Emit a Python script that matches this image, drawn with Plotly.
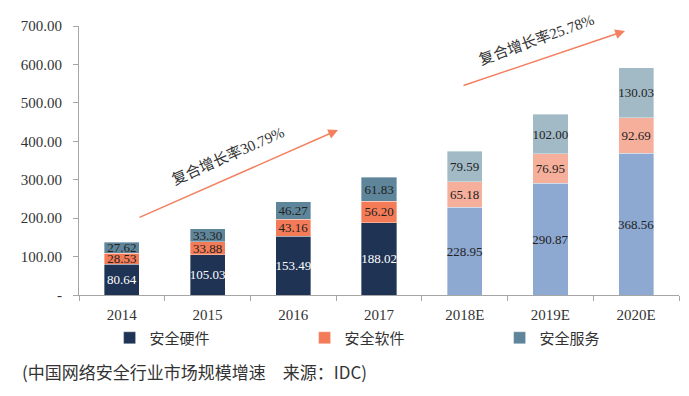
import plotly.graph_objects as go

years = ["2014", "2015", "2016", "2017", "2018E", "2019E", "2020E"]
hardware = [80.64, 105.03, 153.49, 188.02, 228.95, 290.87, 368.56]
software = [28.53, 33.88, 43.16, 56.20, 65.18, 76.95, 92.69]
service = [27.62, 33.30, 46.27, 61.83, 79.59, 102.00, 130.03]
is_estimate = [False, False, False, False, True, True, True]

y_ticks = [0, 100, 200, 300, 400, 500, 600, 700]
y_ticklabels = ["-"] + [f"{v:.2f}" for v in y_ticks[1:]]

series = [
    ("安全硬件", hardware, "#1F3354", "#8DA8D1", "white", "#222222", "legend", 0.051),
    ("安全软件", software, "#F47B57", "#F6AF9B", "#222222", "#222222", "legend2", 0.376),
    ("安全服务", service, "#5E8599", "#A2BAC6", "#222222", "#222222", "legend3", 0.701),
]

SERIF = "Liberation Serif, Times New Roman, Noto Sans CJK SC, serif"
CJK = "Noto Sans CJK SC, sans-serif"

fig = go.Figure()
legend_layouts = {}
for name, vals, c_act, c_est, t_act, t_est, lg, lx in series:
    fig.add_trace(go.Bar(
        x=years, y=vals, name=name, legend=lg,
        marker=dict(color=[c_est if e else c_act for e in is_estimate],
                    line=dict(width=0.6, color="rgba(255,255,255,0.6)")),
        text=[f"{v:.2f}" for v in vals],
        textposition="inside", insidetextanchor="middle", textangle=0,
        constraintext="none", cliponaxis=False,
        textfont=dict(family=SERIF, size=13,
                      color=[t_est if e else t_act for e in is_estimate]),
        width=0.41,
        hoverinfo="skip",
    ))
    legend_layouts[lg] = dict(orientation="h", x=lx, y=-0.16, xanchor="left",
                              yanchor="middle", bgcolor="rgba(0,0,0,0)",
                              font=dict(family=CJK, size=15, color="#333333"),
                              itemclick=False)

fig.update_layout(
    barmode="stack",
    width=689, height=396,
    margin=dict(l=79, r=10, t=26, b=101, autoexpand=False),
    paper_bgcolor="white", plot_bgcolor="white",
    showlegend=True,
    xaxis=dict(type="category", showline=True, linecolor="#A6A6A6", linewidth=1,
               ticks="outside", tickson="boundaries", ticklen=5, tickcolor="#A6A6A6",
               tickfont=dict(family=SERIF, size=15, color="#333333"),
               ticklabelstandoff=6,
               showgrid=False, zeroline=False, fixedrange=True),
    yaxis=dict(range=[0, 700], tickvals=y_ticks, ticktext=y_ticklabels,
               showline=True, linecolor="#A6A6A6", linewidth=1,
               ticks="outside", ticklen=5, tickcolor="#A6A6A6",
               tickfont=dict(family=SERIF, size=15, color="#333333"),
               ticklabelstandoff=8,
               showgrid=False, zeroline=False, fixedrange=True),
    **legend_layouts,
)

arrow_color = "#F4805F"
fig.add_annotation(xref="paper", yref="paper", x=0.4317, y=0.6134,
                   ax=-200, ay=88, axref="pixel", ayref="pixel",
                   showarrow=True, arrowhead=2, arrowsize=1.3, arrowwidth=1.5,
                   arrowcolor=arrow_color, text="")
fig.add_annotation(xref="paper", yref="paper", x=0.91, y=0.9814,
                   ax=-163, ay=55, axref="pixel", ayref="pixel",
                   showarrow=True, arrowhead=2, arrowsize=1.3, arrowwidth=1.5,
                   arrowcolor=arrow_color, text="")
fig.add_annotation(xref="paper", yref="paper", x=0.2483, y=0.5204,
                   xanchor="center", yanchor="middle",
                   text="复合增长率30.79%", showarrow=False, textangle=-24,
                   font=dict(family=SERIF, size=15, color="#333333"))
fig.add_annotation(xref="paper", yref="paper", x=0.7617, y=0.948,
                   xanchor="center", yanchor="middle",
                   text="复合增长率25.78%", showarrow=False, textangle=-20,
                   font=dict(family=SERIF, size=15, color="#333333"))
fig.add_annotation(xref="paper", yref="paper", x=-0.0983, y=-0.286,
                   xanchor="left", yanchor="middle", showarrow=False,
                   text="(中国网络安全行业市场规模增速　来源：IDC)",
                   font=dict(family=CJK, size=17, color="#333333"))

fig.write_html("out.html", config={"displayModeBar": False},
               post_script="document.body.style.margin='0';document.body.style.padding='0';")
